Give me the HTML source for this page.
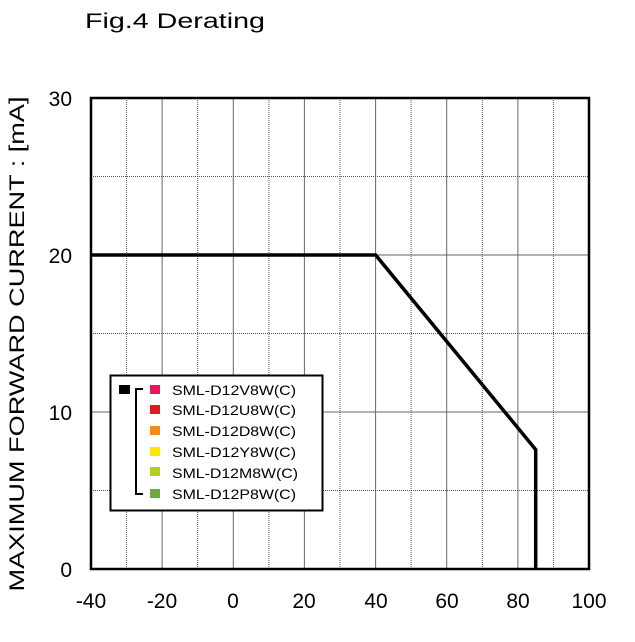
<!DOCTYPE html>
<html><head><style>body{margin:0;background:#fff}</style></head><body>
<svg width="635" height="637" xmlns="http://www.w3.org/2000/svg" font-family="Liberation Sans, sans-serif">
<rect width="635" height="637" fill="#fff"/>
<text x="85" y="28" font-size="21" textLength="180" lengthAdjust="spacingAndGlyphs">Fig.4 Derating</text>
<g stroke-width="1">
<line x1="126.6" y1="98" x2="126.6" y2="569" stroke="#555" stroke-dasharray="1,1"/>
<line x1="162.1" y1="98" x2="162.1" y2="569" stroke="#666"/>
<line x1="197.7" y1="98" x2="197.7" y2="569" stroke="#555" stroke-dasharray="1,1"/>
<line x1="233.3" y1="98" x2="233.3" y2="569" stroke="#666"/>
<line x1="268.9" y1="98" x2="268.9" y2="569" stroke="#555" stroke-dasharray="1,1"/>
<line x1="304.4" y1="98" x2="304.4" y2="569" stroke="#666"/>
<line x1="340" y1="98" x2="340" y2="569" stroke="#555" stroke-dasharray="1,1"/>
<line x1="375.6" y1="98" x2="375.6" y2="569" stroke="#666"/>
<line x1="411.1" y1="98" x2="411.1" y2="569" stroke="#555" stroke-dasharray="1,1"/>
<line x1="446.7" y1="98" x2="446.7" y2="569" stroke="#666"/>
<line x1="482.3" y1="98" x2="482.3" y2="569" stroke="#555" stroke-dasharray="1,1"/>
<line x1="517.9" y1="98" x2="517.9" y2="569" stroke="#666"/>
<line x1="553.4" y1="98" x2="553.4" y2="569" stroke="#555" stroke-dasharray="1,1"/>
<line x1="91" y1="176.5" x2="589" y2="176.5" stroke="#555" stroke-dasharray="1,1"/>
<line x1="91" y1="255" x2="589" y2="255" stroke="#666"/>
<line x1="91" y1="333.5" x2="589" y2="333.5" stroke="#555" stroke-dasharray="1,1"/>
<line x1="91" y1="412" x2="589" y2="412" stroke="#666"/>
<line x1="91" y1="490.5" x2="589" y2="490.5" stroke="#555" stroke-dasharray="1,1"/>
</g>
<rect x="91" y="98" width="498" height="471" fill="none" stroke="#000" stroke-width="2.5"/>
<polyline points="91,255 375.6,255 535.7,449.6 535.7,569" fill="none" stroke="#000" stroke-width="3.5"/>
<g font-size="21" text-anchor="end">
<text x="72" y="106">30</text><text x="72" y="263">20</text><text x="72" y="420">10</text><text x="72" y="577">0</text>
</g>
<g font-size="21" text-anchor="middle">
<text x="91" y="608">-40</text><text x="162" y="608">-20</text><text x="233" y="608">0</text><text x="304" y="608">20</text><text x="376" y="608">40</text><text x="447" y="608">60</text><text x="518" y="608">80</text><text x="589" y="608">100</text>
</g>
<text transform="translate(24,344) rotate(-90)" font-size="21" text-anchor="middle" textLength="495" lengthAdjust="spacingAndGlyphs">MAXIMUM FORWARD CURRENT : [mA]</text>
<rect x="110.5" y="375.5" width="212" height="135" fill="#fff" stroke="#000" stroke-width="2"/>
<rect x="119" y="385" width="11" height="9" fill="#000"/>
<polyline points="143,389 136,389 136,494 143,494" fill="none" stroke="#000" stroke-width="2"/>
<rect x="150" y="385" width="10" height="9" fill="#e8175d"/>
<rect x="150" y="405" width="10" height="9" fill="#e01a22"/>
<rect x="150" y="426" width="10" height="9" fill="#ef8c1a"/>
<rect x="150" y="447" width="10" height="9" fill="#ffe600"/>
<rect x="150" y="467" width="10" height="9" fill="#b5cc22"/>
<rect x="150" y="489" width="10" height="9" fill="#6fa83f"/>
<g font-size="14">
<text x="172" y="395" textLength="124" lengthAdjust="spacingAndGlyphs">SML-D12V8W(C)</text>
<text x="172" y="415" textLength="124" lengthAdjust="spacingAndGlyphs">SML-D12U8W(C)</text>
<text x="172" y="436" textLength="124" lengthAdjust="spacingAndGlyphs">SML-D12D8W(C)</text>
<text x="172" y="457" textLength="124" lengthAdjust="spacingAndGlyphs">SML-D12Y8W(C)</text>
<text x="172" y="478" textLength="126" lengthAdjust="spacingAndGlyphs">SML-D12M8W(C)</text>
<text x="172" y="499" textLength="124" lengthAdjust="spacingAndGlyphs">SML-D12P8W(C)</text>
</g>
</svg>
</body></html>
